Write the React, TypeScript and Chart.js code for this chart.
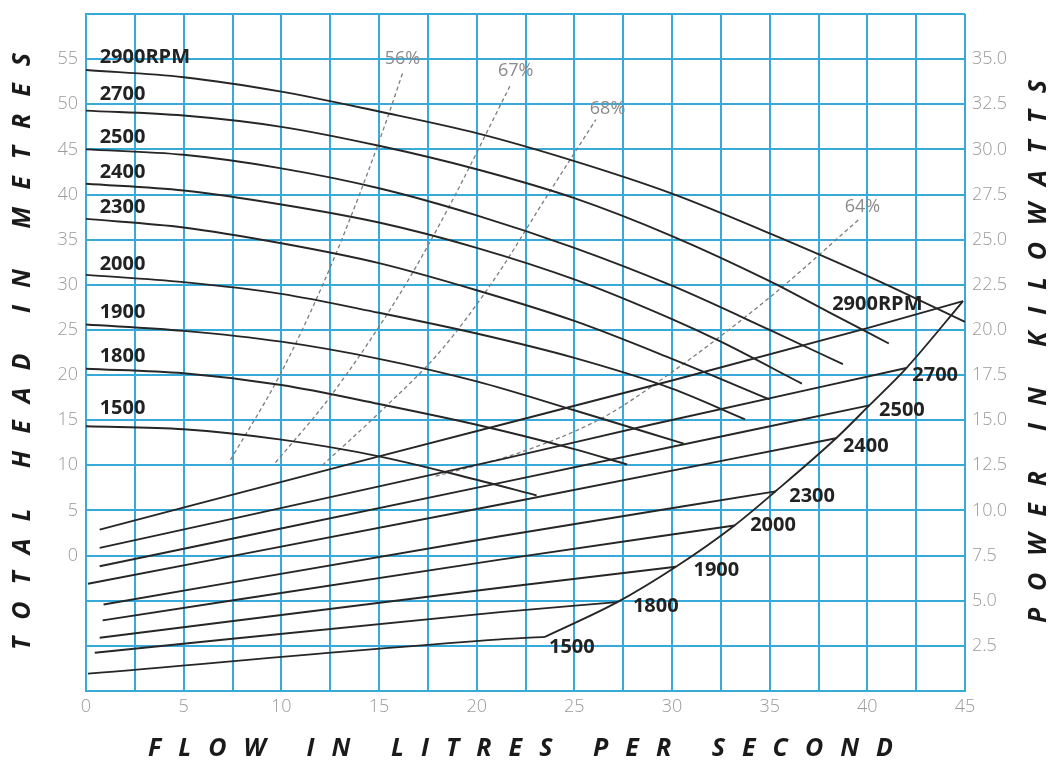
import React, { useEffect, useRef } from 'react';
import { Chart, registerables } from 'chart.js';

Chart.register(...registerables);

// ---------- Head curves (flow L/s, head m) ----------
const headFlow2900 = [0, 5, 10, 15, 20, 25, 30, 35, 40, 45];
const head2900 = [53.8, 53.0, 51.4, 49.2, 46.8, 43.7, 40.1, 35.7, 31.0, 25.9];
const headFlow2700 = [0, 5, 10, 15, 20, 25, 30, 35, 38, 41.1];
const head2700 = [49.3, 48.75, 47.5, 45.4, 42.8, 39.6, 35.4, 30.4, 27.0, 23.5];
const headFlow2500 = [0, 5, 10, 15, 20, 25, 30, 35, 38.75];
const head2500 = [45.0, 44.4, 42.9, 40.7, 37.7, 34.1, 29.9, 25.0, 21.2];
const headFlow2400 = [0, 5, 10, 15, 20, 25, 30, 32.5, 36.65];
const head2400 = [41.2, 40.45, 38.9, 36.9, 34.1, 30.6, 26.2, 23.7, 19.05];
const headFlow2300 = [0, 5, 10, 15, 20, 25, 30, 35];
const head2300 = [37.3, 36.35, 34.6, 32.4, 29.4, 26.0, 21.8, 17.3];
const headFlow2000 = [0, 5, 10, 15, 20, 25, 30, 33.74];
const head2000 = [31.1, 30.3, 29.0, 26.9, 24.6, 21.9, 18.5, 15.1];
const headFlow1900 = [0, 5, 10, 15, 20, 25, 30.6];
const head1900 = [25.6, 24.9, 23.7, 21.8, 19.3, 16.1, 12.4];
const headFlow1800 = [0, 5, 10, 15, 20, 25, 27.7];
const head1800 = [20.7, 20.2, 18.9, 16.8, 14.5, 11.8, 10.1];
const headFlow1500 = [0, 5, 10, 15, 20, 23.07];
const head1500 = [14.33, 14.0, 12.85, 11.0, 8.4, 6.66];

// ---------- Power curves (flow L/s, power kW) ----------
const powerFlow2900 = [0.7, 15, 30, 40, 44.9];
const power2900 = [8.94, 13.0, 17.2, 20.1, 21.6];
const powerFlow2700 = [0.7, 21.2, 28.9, 42.0];
const power2700 = [7.93, 12.82, 14.75, 17.89];
const powerFlow2500 = [0.7, 21.2, 40.1];
const power2500 = [6.91, 11.53, 15.82];
const powerFlow2400 = [0.1, 21.2, 38.4];
const power2400 = [5.94, 10.33, 14.0];
const powerFlow2300 = [0.9, 21.2, 35.3];
const power2300 = [4.79, 8.57, 11.06];
const powerFlow2000 = [0.85, 21.2, 33.2];
const power2000 = [3.91, 7.28, 9.17];
const powerFlow1900 = [0.7, 21.2, 30.2];
const power1900 = [2.95, 5.72, 6.88];
const powerFlow1800 = [0.45, 21.2, 27.2];
const power1800 = [2.12, 4.37, 4.92];
const powerFlow1500 = [0.1, 21.2, 23.5];
const power1500 = [0.96, 2.86, 3.0];

// envelope joining the ends of the power curves
const envelopeFlow = [23.5, 27.2, 30.2, 33.2, 35.3, 38.4, 40.1, 42.0, 44.9];
const envelopePower = [3.0, 4.92, 6.88, 9.17, 11.06, 14.0, 15.82, 17.89, 21.6];

// ---------- Efficiency lines (flow, head) ----------
const eff56Flow = [7.4, 9.9, 12.2, 14.0, 15.4, 16.2];
const eff56Head = [10.6, 19.9, 30.4, 40.0, 48.3, 53.4];
const eff67Flow = [9.7, 12.5, 16.1, 18.5, 21.7];
const eff67Head = [10.3, 17.6, 29.1, 38.3, 52.0];
const eff68Flow = [12.1, 15.0, 18.2, 20.9, 23.5, 26.1];
const eff68Head = [10.0, 15.8, 22.8, 30.6, 39.5, 48.3];
const eff64Flow = [17.9, 20, 22.2, 26.3, 28.8, 35, 39.55];
const eff64Head = [8.8, 10.0, 11.4, 15.1, 18.5, 28.6, 37.2];

// ---------- Labels ----------
const rpmTexts = ['2900RPM', '2700', '2500', '2400', '2300', '2000', '1900', '1800', '1500'];
const headLabelFlow = 0.7;
const headLabelHead = [55.2, 51.1, 46.3, 42.5, 38.6, 32.3, 26.9, 22.1, 16.3];
const powerLabelFlow = [38.2, 42.3, 40.6, 38.75, 36.0, 34.0, 31.1, 28.0, 23.7];
const powerLabelKw = [21.4, 17.5, 15.55, 13.55, 10.8, 9.2, 6.7, 4.7, 2.4];
const effTexts = ['56%', '67%', '68%', '64%'];
const effLabelFlow = [16.2, 22.0, 26.7, 39.75];
const effLabelHead = [55.0, 53.7, 49.45, 38.6];

const xTitle = 'FLOW IN LITRES PER SECOND';
const yLeftTitle = 'TOTAL HEAD IN METRES';
const yRightTitle = 'POWER IN KILOWATTS';

const GRID = '#38aad9';
const LINE = '#262626';
const DASH = '#7c7c7c';
const TICK = '#9a9a9a';

function curve(flow: number[], vals: number[], axis: string, dashed = false) {
  return {
    data: flow.map((x, i) => ({ x, y: vals[i] })),
    yAxisID: axis,
    borderColor: dashed ? DASH : LINE,
    borderWidth: dashed ? 1.3 : 1.9,
    borderDash: dashed ? [4, 3] : [],
    pointRadius: 0,
    cubicInterpolationMode: 'monotone' as const,
    fill: false,
  };
}

function drawSpaced(ctx: CanvasRenderingContext2D, text: string, cx: number, cy: number, span: number, rotate: boolean) {
  ctx.save();
  ctx.translate(cx, cy);
  if (rotate) ctx.rotate(-Math.PI / 2);
  const chars = Array.from(text);
  const widths = chars.map((c) => ctx.measureText(c).width);
  const sum = widths.reduce((a, b) => a + b, 0);
  const ls = (span - sum) / (chars.length - 1);
  let x = -span / 2;
  chars.forEach((c, i) => {
    ctx.fillText(c, x, 0);
    x += widths[i] + ls;
  });
  ctx.restore();
}

const labelPlugin = {
  id: 'labels',
  afterDatasetsDraw(chart: any) {
    const ctx: CanvasRenderingContext2D = chart.ctx;
    const xs = chart.scales.x;
    const yh = chart.scales.yHead;
    const yp = chart.scales.yPower;
    ctx.save();
    ctx.fillStyle = '#222';
    ctx.font = 'bold 20px "Open Sans"';
    ctx.textAlign = 'left';
    ctx.textBaseline = 'middle';
    rpmTexts.forEach((t, i) => {
      ctx.fillText(t, xs.getPixelForValue(headLabelFlow), yh.getPixelForValue(headLabelHead[i]));
      ctx.fillText(t, xs.getPixelForValue(powerLabelFlow[i]), yp.getPixelForValue(powerLabelKw[i]));
    });
    ctx.fillStyle = '#8a8a8a';
    ctx.font = '18px "Open Sans"';
    ctx.textAlign = 'center';
    effTexts.forEach((t, i) => {
      ctx.fillText(t, xs.getPixelForValue(effLabelFlow[i]), yh.getPixelForValue(effLabelHead[i]));
    });
    // axis titles
    ctx.fillStyle = '#1a1a1a';
    ctx.font = 'italic bold 25px "Open Sans"';
    ctx.textAlign = 'left';
    ctx.textBaseline = 'middle';
    drawSpaced(ctx, xTitle, 520.5, 749, 745, false);
    drawSpaced(ctx, yLeftTitle, 22.5, 351.5, 597, true);
    drawSpaced(ctx, yRightTitle, 1039, 351.5, 543, true);
    ctx.restore();
  },
};

const tickFont = { family: 'Open Sans', size: 18, weight: '300' as const };

function noPad(s: any) {
  s.paddingTop = 0;
  s.paddingBottom = 0;
  s.paddingLeft = 0;
  s.paddingRight = 0;
}

export default function App() {
  const ref = useRef<HTMLCanvasElement>(null);
  useEffect(() => {
    document.body.style.margin = '0';
    const datasets = [
      curve(headFlow2900, head2900, 'yHead'),
      curve(headFlow2700, head2700, 'yHead'),
      curve(headFlow2500, head2500, 'yHead'),
      curve(headFlow2400, head2400, 'yHead'),
      curve(headFlow2300, head2300, 'yHead'),
      curve(headFlow2000, head2000, 'yHead'),
      curve(headFlow1900, head1900, 'yHead'),
      curve(headFlow1800, head1800, 'yHead'),
      curve(headFlow1500, head1500, 'yHead'),
      curve(powerFlow2900, power2900, 'yPower'),
      curve(powerFlow2700, power2700, 'yPower'),
      curve(powerFlow2500, power2500, 'yPower'),
      curve(powerFlow2400, power2400, 'yPower'),
      curve(powerFlow2300, power2300, 'yPower'),
      curve(powerFlow2000, power2000, 'yPower'),
      curve(powerFlow1900, power1900, 'yPower'),
      curve(powerFlow1800, power1800, 'yPower'),
      curve(powerFlow1500, power1500, 'yPower'),
      curve(envelopeFlow, envelopePower, 'yPower'),
      curve(eff56Flow, eff56Head, 'yHead', true),
      curve(eff67Flow, eff67Head, 'yHead', true),
      curve(eff68Flow, eff68Head, 'yHead', true),
      curve(eff64Flow, eff64Head, 'yHead', true),
    ];
    const chart = new Chart(ref.current!, {
      type: 'line',
      data: { datasets: datasets as any },
      options: {
        animation: false,
        responsive: true,
        maintainAspectRatio: false,
        layout: { padding: { top: 14, left: 0, right: 0, bottom: 0 } },
        plugins: { legend: { display: false }, tooltip: { enabled: false } },
        scales: {
          x: {
            type: 'linear',
            min: 0,
            max: 45,
            ticks: {
              stepSize: 2.5,
              autoSkip: false,
              maxRotation: 0,
              padding: 5,
              color: TICK,
              font: tickFont,
              callback: (v: any) => (Math.abs(v % 5) < 1e-6 ? String(v) : ''),
            },
            grid: { color: GRID, lineWidth: 2, drawTicks: false },
            border: { color: GRID, width: 2 },
            afterFit: (s: any) => { s.height = 72; noPad(s); },
          },
          yHead: {
            type: 'linear',
            position: 'left',
            min: -15,
            max: 60,
            ticks: {
              stepSize: 5,
              padding: 8,
              color: TICK,
              font: tickFont,
              callback: (v: any) => (v >= 0 && v <= 55 ? String(v) : ''),
            },
            grid: { color: GRID, lineWidth: 2, drawTicks: false },
            border: { color: GRID, width: 2 },
            afterFit: (s: any) => { s.width = 86; noPad(s); },
          },
          yPower: {
            type: 'linear',
            position: 'right',
            min: 0,
            max: 37.5,
            ticks: {
              stepSize: 2.5,
              padding: 7,
              color: TICK,
              font: tickFont,
              callback: (v: any) => (v > 0.1 && v < 37 ? Number(v).toFixed(1) : ''),
            },
            grid: { display: false, drawTicks: false },
            border: { display: false },
            afterFit: (s: any) => { s.width = 88; noPad(s); },
          },
        },
      },
      plugins: [labelPlugin],
    });
    return () => chart.destroy();
  }, []);
  return (
    <div style={{ position: 'relative', width: 1053, height: 763, background: '#fff' }}>
      <canvas ref={ref} />
    </div>
  );
}
